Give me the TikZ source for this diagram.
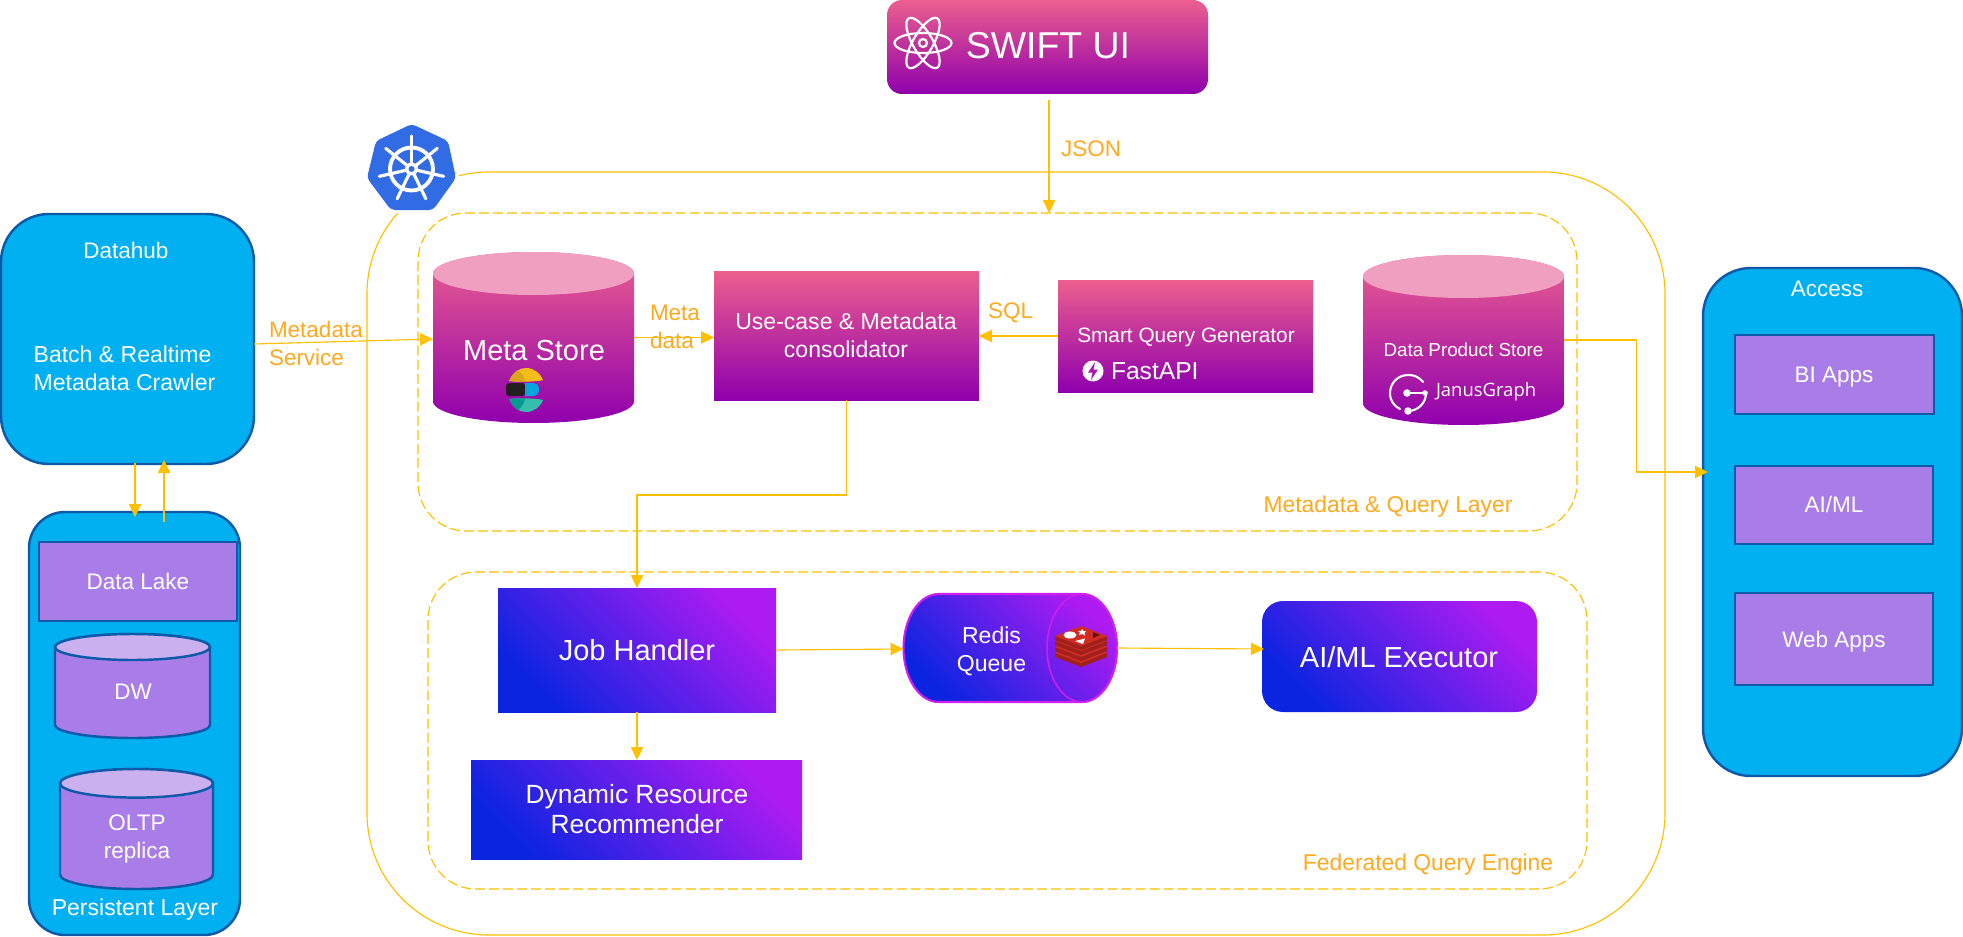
\documentclass[tikz,border=0pt]{standalone}
\usepackage{fontspec}
\setmainfont{Liberation Sans}
\newfontfamily\janfont{Open Sans}
\usetikzlibrary{arrows.meta,calc}
\definecolor{pk}{HTML}{EC5F8E}
\definecolor{pu}{HTML}{8F00AD}
\definecolor{pktop}{HTML}{F19FC0}
\definecolor{vb}{HTML}{0A24E0}
\definecolor{vp}{HTML}{AE1BF2}
\definecolor{sky}{HTML}{00B0F0}
\definecolor{edgeb}{HTML}{0F5AA8}
\definecolor{lav}{HTML}{A97DE8}
\definecolor{lavtop}{HTML}{CBB0F0}
\definecolor{conn}{HTML}{FFC000}
\definecolor{lab}{HTML}{FFA91F}
\definecolor{kb}{HTML}{326CE5}
\definecolor{rmag}{HTML}{CC1FF0}
\tikzset{
  x=0.02cm,y=-0.02cm,
  base/.style={inner sep=0pt,outer sep=0pt,align=center,text=white},
  pinkbox/.style={base,top color=pk,bottom color=pu},
  violet/.style={base,left color=vb,right color=vp,shading angle=135},
  skybox/.style={base,fill=sky,draw=edgeb,line width=1.4pt},
  lavbox/.style={base,fill=lav,draw=edgeb,line width=1.4pt},
  layer/.style={base,draw=conn,line width=0.65pt,dash pattern=on 5.7pt off 2.3pt,rounded corners=0.96cm},
  wire/.style={draw=conn,line width=0.65pt,-{Triangle[length=7.4pt,width=7pt]}},
  lbl/.style={inner sep=0pt,outer sep=0pt,align=left,text=lab,font=\fontsize{12.8pt}{15.9pt}\selectfont},
  lblb/.style={lbl,font=\fontsize{13pt}{15.9pt}\selectfont},
  wt/.style={inner sep=0pt,outer sep=0pt,align=center,text=white},
  sizeA/.style={font=\fontsize{12.8pt}{16.2pt}\selectfont},
  sizeB/.style={font=\fontsize{13.1pt}{16.2pt}\selectfont},
  sizeC/.style={font=\fontsize{16.5pt}{20pt}\selectfont},
  cylpink/.style={top color=pk,bottom color=pu},
  cyllav/.style={fill=lav,draw=edgeb,line width=1.4pt},
  toplav/.style={fill=lavtop,draw=edgeb,line width=1.4pt},
}
\newcommand{\bx}[7]{\node[#6,minimum width={(#4-#2)*0.02cm},minimum height={(#5-#3)*0.02cm}] (#1) at ({(#2+#4)/2},{(#3+#5)/2}) {#7};}
\newcommand{\cyl}[8]{%
  \path[#7] (#2,{#3+#6}) -- (#2,{#5-#6}) arc[start angle=180,end angle=360,x radius={(#4-#2)/2*0.02cm},y radius={#6*0.02cm}] -- (#4,{#3+#6}) arc[start angle=0,end angle=180,x radius={(#4-#2)/2*0.02cm},y radius={#6*0.02cm}] -- cycle;
  \path[#8] ({(#2+#4)/2},{#3+#6}) ellipse[x radius={(#4-#2)/2*0.02cm},y radius={#6*0.02cm}];
  \node[inner sep=0pt,outer sep=0pt,minimum width={(#4-#2)*0.02cm},minimum height={(#5-#3)*0.02cm}] (#1) at ({(#2+#4)/2},{(#3+#5)/2}) {};}
\begin{document}
\begin{tikzpicture}
\useasboundingbox (0,0) rectangle (1963,936);
\fill[white] (0,0) rectangle (1963,936);

% containers
\bx{kube}{367}{172}{1665}{935}{base,draw=conn,line width=0.65pt,rounded corners=2.44cm}{}
\bx{mlayer}{418}{213}{1577}{531}{layer}{}
\bx{flayer}{428}{572}{1587}{889}{layer}{}
\node[lblb] (mlabel) at (1388,506.5) {Metadata \& Query Layer};
\node[lblb] (flabel) at (1428,864.5) {Federated Query Engine};

% swift
\bx{swift}{887}{0}{1208}{94}{pinkbox,rounded corners=0.3cm}{}
\begin{scope}[draw=white,line width=1.25pt]
  \draw (923,43) ellipse[x radius=0.57cm,y radius=0.2cm];
  \draw[rotate around={60:(923,43)}] (923,43) ellipse[x radius=0.57cm,y radius=0.2cm];
  \draw[rotate around={-60:(923,43)}] (923,43) ellipse[x radius=0.57cm,y radius=0.2cm];
  \draw (923,43) circle[radius=0.08cm];
\end{scope}
\node[wt,font=\fontsize{21.3pt}{24pt}\selectfont] (swifttext) at (1048,46) {SWIFT UI};

% datahub
\bx{datahub}{1}{214}{254}{464}{skybox,rounded corners=0.96cm}{}
\node[wt,sizeA] (dhtitle) at (126,250) {Datahub};
\node[wt,sizeB,align=left] (dhtext) at (124.5,368) {Batch \& Realtime\\Metadata Crawler};

% persistent
\bx{persist}{29}{512}{240}{935}{skybox,rounded corners=0.72cm}{}
\bx{lake}{39}{542}{237}{621}{lavbox}{}
\node[wt,sizeA] (laketext) at (138,581) {Data Lake};
\cyl{dw}{55}{634}{210}{738}{13}{cyllav}{toplav}
\node[wt,sizeA] (dwtext) at (133,692) {DW};
\cyl{oltp}{60}{769}{213}{889}{14.3}{cyllav}{toplav}
\node[wt,sizeA] (oltptext) at (137,839) {OLTP\\replica};
\node[wt,sizeB] (ptext) at (135,910) {Persistent Layer};

% access
\bx{access}{1703}{268}{1962}{776}{skybox,rounded corners=0.96cm}{}
\node[wt,sizeA] (acctext) at (1827,289) {Access};
\bx{bi}{1735}{335}{1934}{414}{lavbox}{}
\bx{aiml}{1735}{466}{1933}{544}{lavbox}{}
\bx{web}{1735}{593}{1933}{685}{lavbox}{}
\node[wt,sizeA] (bitext) at (1834,377.5) {BI Apps};
\node[wt,sizeA] (aitext) at (1834,504) {AI/ML};
\node[wt,sizeA] (webtext) at (1834,641.5) {Web Apps};

% meta store
\cyl{meta}{433}{252}{634}{423}{21.5}{cylpink}{fill=pktop}
\node[wt,sizeC] (metatext) at (534,350.5) {Meta Store};
% elastic logo
\fill[color={rgb,255:red,244;green,189;blue,25}] (509,381) .. controls (513,372) and (519,368) .. (526,368) .. controls (534,368) and (540,373) .. (543,380) .. controls (537,382) and (516,382) .. (509,381) -- cycle;
\fill[color={rgb,255:red,217;green,165;blue,27}] (509,381) .. controls (512,375) and (515,372) .. (518,370) .. controls (522,373) and (524,377) .. (525,381.5) .. controls (519,381.8) and (513,381.5) .. (509,381) -- cycle;
\fill[color={rgb,255:red,35;green,31;blue,32},rounded corners=0.06cm] (506,383) -- (525,383) -- (525,396) -- (506,396) -- cycle;
\fill[color={rgb,255:red,7;green,165;blue,222}] (525,383) -- (533,383) .. controls (537,383) and (539,386) .. (539,389.5) .. controls (539,393) and (537,396) .. (533,396) -- (525,396) -- cycle;
\fill[color={rgb,255:red,54;green,189;blue,174}] (509,399) .. controls (513,408) and (519,412) .. (526,412) .. controls (534,412) and (540,407) .. (543,400) .. controls (537,398) and (516,398) .. (509,399) -- cycle;
\fill[color={rgb,255:red,1;green,155;blue,143}] (509,399) .. controls (512,405) and (515,408) .. (518,410) .. controls (522,407) and (524,403) .. (525,398.5) .. controls (519,398.2) and (513,398.5) .. (509,399) -- cycle;

% use-case
\bx{usecase}{714}{271}{979}{400}{pinkbox}{}
\node[wt,sizeB] (uctext) at (846,335.5) {Use-case \& Metadata\\consolidator};

% smart
\bx{smart}{1058}{280}{1313}{392}{pinkbox}{}
\node[wt,font=\fontsize{11.85pt}{14pt}\selectfont] (smarttext) at (1186,337) {Smart Query Generator};
\fill[white] (1093,371) circle[radius=0.21cm];
\fill[color={rgb,255:red,172;green,26;blue,170}] (1095,362) -- (1088,372.5) -- (1092.5,372.5) -- (1091,380) -- (1098,369.5) -- (1093.5,369.5) -- cycle;
\node[wt,anchor=west,font=\fontsize{14pt}{16pt}\selectfont] (fasttext) at (1111,371) {FastAPI};

% data product store
\cyl{dps}{1363}{255}{1564}{425}{21.5}{cylpink}{fill=pktop}
\node[wt,font=\fontsize{10.7pt}{14pt}\selectfont] (dpstext) at (1463.5,350) {Data Product Store};
\begin{scope}[white,line width=1.2pt,line cap=round]
  \draw (1423,382) .. controls (1418,376) and (1413,375) .. (1408,375) .. controls (1398,375) and (1390,383) .. (1390,393) .. controls (1390,401) and (1394,406) .. (1400,409);
  \draw (1426,393) .. controls (1426,403) and (1418,411) .. (1408,411);
  \draw (1407,393) -- (1426,393);
  \fill (1407,393) circle[radius=0.075cm];
  \fill (1425,393) circle[radius=0.055cm];
  \fill (1408,411) circle[radius=0.075cm];
\end{scope}
\node[wt,anchor=west,font=\janfont\fontsize{10.5pt}{14pt}\selectfont] (jantext) at (1436,392) {JanusGraph};

% job handler etc.
\bx{job}{498}{588}{776}{712}{violet}{}
\node[wt,sizeC] (jobtext) at (637,650) {Job Handler};
\bx{dyn}{471}{760}{802}{859}{violet}{}
\node[wt,font=\fontsize{15pt}{17pt}\selectfont] (dyntext) at (637,809) {Dynamic Resource\\Recommender};
\bx{ai}{1262}{601}{1537}{712}{violet,rounded corners=0.42cm}{}
\node[wt,sizeC] (aitxt) at (1399,657) {AI/ML Executor};

% redis queue
\path[left color=vb,right color=vp,shading angle=135] (938.5,594) -- (1082,594) arc[start angle=90,end angle=-90,x radius=0.7cm,y radius=1.08cm] -- (938.5,702) arc[start angle=270,end angle=90,x radius=0.7cm,y radius=1.08cm] -- cycle;
\draw[rmag,line width=1.2pt] (938.5,594) -- (1082,594) arc[start angle=90,end angle=-90,x radius=0.7cm,y radius=1.08cm] -- (938.5,702) arc[start angle=270,end angle=90,x radius=0.7cm,y radius=1.08cm] -- cycle;
\draw[rmag,line width=0.9pt] (1082,648) ellipse[x radius=0.7cm,y radius=1.08cm];
\node[inner sep=0pt,outer sep=0pt,minimum width=4.27cm,minimum height=2.16cm] (redis) at (1010.25,648) {};
\node[wt,font=\fontsize{13.1pt}{16pt}\selectfont] (redistext) at (991.5,651) {Redis\\Queue};
% redis logo
\foreach \o in {17,11,5,0}{
  \fill[color={rgb,255:red,160;green,32;blue,28}] (1055,{636+\o}) -- (1055,{640+\o}) -- (1081,{645+\o}) -- (1107,{640+\o}) -- (1107,{636+\o}) -- cycle;
  \fill[color={rgb,255:red,160;green,32;blue,28}] (1055,{640+\o}) -- (1081,{650+\o}) -- (1107,{640+\o}) -- cycle;
  \fill[color={rgb,255:red,208;green,44;blue,36}] (1081,{626+\o}) -- (1107,{636+\o}) -- (1081,{646+\o}) -- (1055,{636+\o}) -- cycle;
}
\fill[white] (1070,635) ellipse[x radius=0.13cm,y radius=0.07cm];
\fill[white] (1082,629) -- (1083.5,631) -- (1086,631) -- (1084.5,633) -- (1085,635.5) -- (1082,634) -- (1079,635) -- (1080,632.5) -- (1078,631) -- (1081,631) -- cycle;
\fill[white] (1075,641) -- (1085,638.5) -- (1083,644) -- cycle;
\fill[color={rgb,255:red,90;green,20;blue,20}] (1093,632) -- (1100,635) -- (1093,638) -- cycle;

% kubernetes
\path[fill=kb,draw=white,line width=3.5pt,line join=round] (411.7,124) -- (448,141) -- (456,178) -- (433,210) -- (391,210) -- (367,178) -- (376,141) -- cycle;
\fill[kb,rounded corners=0.08cm] (411.7,124) -- (448,141) -- (456,178) -- (433,210) -- (391,210) -- (367,178) -- (376,141) -- cycle;
\begin{scope}[white]
  \draw[line width=2.2pt] (411.5,169) circle[radius=0.43cm];
  \foreach \a in {0,...,6}{
    \draw[line width=1.8pt,line cap=round] (411.5,169) -- ({411.5+33*cos(90+\a*51.43)},{169-33*sin(90+\a*51.43)});
  }
  \fill (411.5,169) circle[radius=0.13cm];
  \fill[kb] (411.5,169) circle[radius=0.06cm];
\end{scope}

% labels
\node[lbl] (jsonlab) at (1091,148.5) {JSON};
\node[lbl,anchor=west] (msl) at (269,343) {Metadata\\Service};
\node[lbl,anchor=west] (mdl) at (650,327) {Meta\\data};
\node[lbl] (sqllab) at (1010.5,312.5) {SQL};

% connectors
\draw[wire] ([shift={(1.5,6)}]swift.south) -- ([shift={(1.5,0)}]swift.south |- mlayer.north);
\draw[wire] ([shift={(0,5)}]datahub.east) -- ([shift={(0,1.5)}]meta.west);
\draw[wire] (meta.east) -- (meta.east -| usecase.west);
\draw[wire] (smart.west) -- (smart.west -| usecase.east);
\draw[wire] (usecase.south) -- ++(0,95) -| (job.north);
\draw[wire] (job.east) -- ([shift={(0,1)}]redis.west);
\draw[wire] (redis.east) -- ([shift={(2,-7.5)}]ai.west);
\draw[wire] (job.south) -- (job.south |- dyn.north);
\draw[wire] (dps.east) -- ++(72.5,0) |- ([shift={(5,-50)}]access.west);
\draw[wire] ([shift={(7.5,-1)}]datahub.south) -- ([shift={(0.5,5)}]persist.north);
\draw[wire] ([shift={(29.5,10)}]persist.north) -- ([shift={(36.5,-4)}]datahub.south);
\end{tikzpicture}
\end{document}
